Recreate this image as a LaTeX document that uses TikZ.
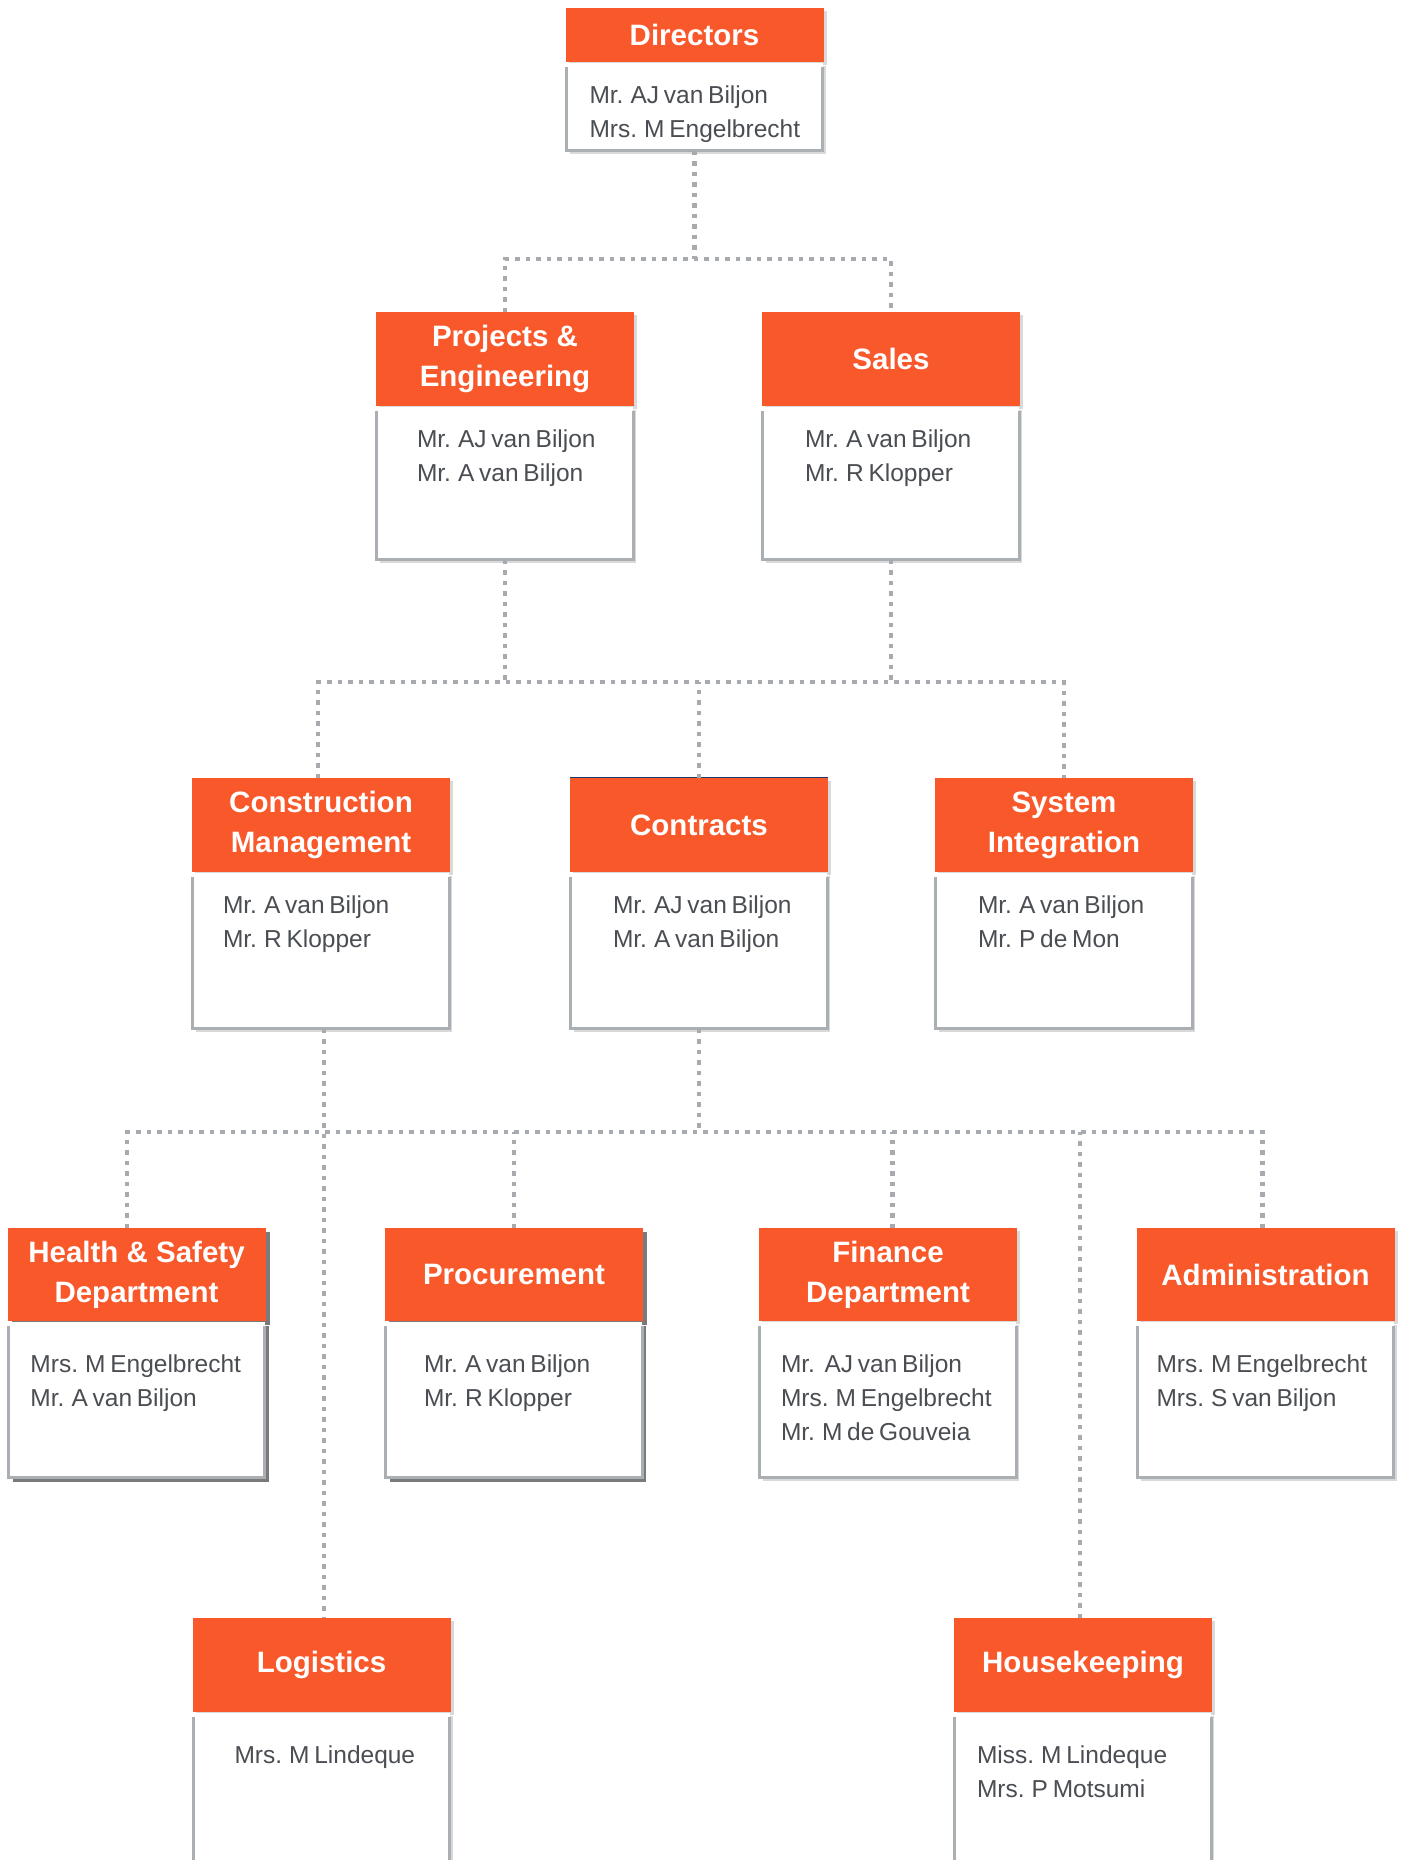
\documentclass[tikz,border=0pt]{standalone}
\usepackage{fontspec}
\setmainfont{Liberation Sans}
\newfontfamily\namefont[WordSpace=0.7]{Liberation Sans}
\usetikzlibrary{shadows}
\definecolor{hdr}{RGB}{249,88,43}
\definecolor{bord}{RGB}{170,175,180}
\definecolor{txt}{RGB}{74,78,83}
\definecolor{dotc}{RGB}{167,171,175}
\definecolor{navy}{RGB}{31,58,110}
\tikzset{
  lightsh/.style={drop shadow={shadow xshift=3pt, shadow yshift=-3pt, opacity=0.15, fill=black}},
  darksh/.style={drop shadow={shadow xshift=4pt, shadow yshift=-4pt, opacity=0.65, fill=black!80}},
  hd/.style={fill=hdr, text=white, font=\fontsize{29.5}{40}\selectfont\bfseries, align=center,
    minimum width=258pt, inner sep=0pt, anchor=north},
  bd/.style={fill=white, minimum width=256pt, inner sep=0pt, anchor=north},
  nm/.style={text=txt, font=\namefont\fontsize{24.5}{34}\selectfont, align=left, inner sep=0pt, anchor=north west},
  conn/.style={draw=dotc, line width=4.5pt, dash pattern=on 4.5pt off 6pt},
  edgeline/.style={draw=bord, line width=3pt},
}
% #1 name, #2 centre x, #3 header top y, #4 header height, #5 body height, #6 title, #7 shadow style
\newcommand\orgunit[7]{%
  \node[hd, #7, minimum height=#4pt] (#1) at (#2,#3) {#6};
  \node[bd, #7, minimum height=#5pt] (#1b) at (#1.south) {};
  \draw[edgeline] ([yshift=-5pt]#1b.north west) -- (#1b.south west) -- (#1b.south east) -- ([yshift=-5pt]#1b.north east);
}
\begin{document}
\begin{tikzpicture}[x=1pt,y=-1pt]
\useasboundingbox (0,0) rectangle (1402,1860);

% Level 1
\orgunit{dir}{694.5}{8}{54}{88}{Directors}{lightsh}
\node[nm] (dirt) at ([xshift=23pt,yshift=-23pt]dirb.north west) {Mr. AJ van Biljon\\Mrs. M Engelbrecht};

% Level 2
\orgunit{pe}{505}{312}{94}{153}{Projects \&\\Engineering}{lightsh}
\node[nm] (pet) at ([xshift=40pt,yshift=-23pt]peb.north west) {Mr. AJ van Biljon\\Mr. A van Biljon};
\orgunit{sal}{891}{312}{94}{153}{Sales}{lightsh}
\node[nm] (salt) at ([xshift=42pt,yshift=-23pt]salb.north west) {Mr. A van Biljon\\Mr. R Klopper};

% Level 3
\orgunit{cm}{321}{778}{94}{156}{Construction\\Management}{lightsh}
\node[nm] (cmt) at ([xshift=30pt,yshift=-23pt]cmb.north west) {Mr. A van Biljon\\Mr. R Klopper};
\orgunit{con}{699}{778}{94}{156}{Contracts}{lightsh}
\draw[navy, line width=1.5pt] ([yshift=0.75pt]con.north west) -- ([yshift=0.75pt]con.north east);
\node[nm] (cont) at ([xshift=42pt,yshift=-23pt]conb.north west) {Mr. AJ van Biljon\\Mr. A van Biljon};
\orgunit{si}{1064}{778}{94}{156}{System\\Integration}{lightsh}
\node[nm] (sit) at ([xshift=42pt,yshift=-23pt]sib.north west) {Mr. A van Biljon\\Mr. P de Mon};

% Level 4
\orgunit{hs}{136.5}{1228}{93}{156}{Health \& Safety\\Department}{darksh}
\node[nm] (hst) at ([xshift=22pt,yshift=-33pt]hsb.north west) {Mrs. M Engelbrecht\\Mr. A van Biljon};
\orgunit{pro}{514}{1228}{93}{156}{Procurement}{darksh}
\node[nm] (prot) at ([xshift=38pt,yshift=-33pt]prob.north west) {Mr. A van Biljon\\Mr. R Klopper};
\orgunit{fin}{888}{1228}{93}{156}{Finance\\Department}{lightsh}
\node[nm] (fint) at ([xshift=21pt,yshift=-33pt]finb.north west) {Mr.~~AJ van Biljon\\Mrs. M Engelbrecht\\Mr. M de Gouveia};
\orgunit{adm}{1265.5}{1228}{93}{156}{Administration}{lightsh}
\node[nm] (admt) at ([xshift=19pt,yshift=-33pt]admb.north west) {Mrs. M Engelbrecht\\Mrs. S van Biljon};

% Level 5
\orgunit{log}{321.5}{1618}{94}{260}{Logistics}{lightsh}
\node[nm] (logt) at ([xshift=41pt,yshift=-33pt]logb.north west) {Mrs. M Lindeque};
\orgunit{hk}{1083}{1618}{94}{260}{Housekeeping}{lightsh}
\node[nm] (hkt) at ([xshift=22pt,yshift=-33pt]hkb.north west) {Miss. M Lindeque\\Mrs. P Motsumi};

% Connectors
\coordinate (j1) at (694.5,259);
\coordinate (j2) at (699,682);
\coordinate (j3) at (699,1132);
\draw[conn] (dirb.south) -- (j1);
\draw[conn] (pe.north) |- (j1) -| (sal.north);
\draw[conn] (peb.south) -- (peb.south |- j2);
\draw[conn] (salb.south) -- (salb.south |- j2);
\draw[conn] ([xshift=-3pt]cm.north) |- (j2) -| (si.north);
\draw[conn] (con.north) -- (j2);
\draw[conn] (conb.south) -- (j3);
\draw[conn] ([xshift=-9.5pt]hs.north) |- (j3) -| ([xshift=-3pt]adm.north);
\draw[conn] (pro.north) -- (pro.north |- j3);
\draw[conn] ([xshift=4.5pt]fin.north) -- ([xshift=4.5pt]fin.north |- j3);
\draw[conn] ([xshift=-3pt]hk.north) -- ([xshift=-3pt]hk.north |- j3);
\draw[conn] ([xshift=3pt]cmb.south) -- ([xshift=2.5pt]log.north);
\end{tikzpicture}
\end{document}
